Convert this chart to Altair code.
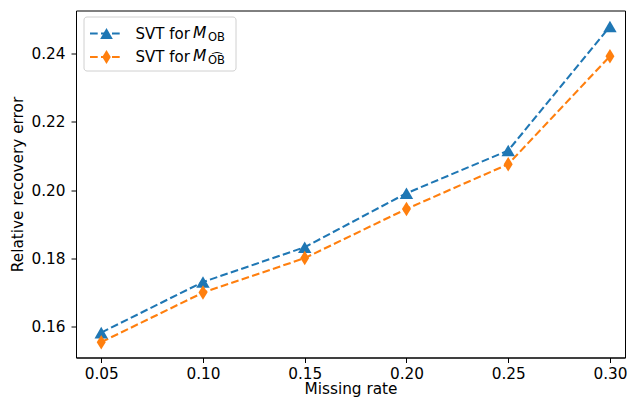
import altair as alt
import pandas as pd

missing_rate = [0.05, 0.10, 0.15, 0.20, 0.25, 0.30]
err_ob = [0.1583, 0.1731, 0.1833, 0.1991, 0.2116, 0.2479]
err_ob_hat = [0.1555, 0.1700, 0.1801, 0.1945, 0.2076, 0.2392]
series_names = ["SVT for M_OB", "SVT for M_OB_hat"]
colors = ["#1f77b4", "#ff7f0e"]
x_ticks = [0.05, 0.10, 0.15, 0.20, 0.25, 0.30]
y_ticks = [0.16, 0.18, 0.20, 0.22, 0.24]

rows = []
for x, a, b in zip(missing_rate, err_ob, err_ob_hat):
    rows.append({"rate": x, "err": a, "series": series_names[0]})
    rows.append({"rate": x, "err": b, "series": series_names[1]})
df = pd.DataFrame(rows)

FONT = "DejaVu Sans"
FS = 15.3
W, H = 549, 347
thin_diamond = "M0,-1L0.62,0L0,1L-0.62,0Z"

x_enc = alt.X("rate:Q", scale=alt.Scale(domain=[0.0376, 0.3074], nice=False, zero=False),
              axis=alt.Axis(values=x_ticks, format=".2f", title="Missing rate"))
y_enc = alt.Y("err:Q", scale=alt.Scale(domain=[0.1510, 0.2526], nice=False, zero=False),
              axis=alt.Axis(values=y_ticks, format=".2f", title="Relative recovery error"))
color_enc = alt.Color("series:N", scale=alt.Scale(domain=series_names, range=colors), legend=None)

DASH = [7.7, 3.3]
lines = alt.Chart(df).mark_line(strokeWidth=2.1, strokeDash=DASH).encode(
    x=x_enc, y=y_enc, color=color_enc, detail="series:N")

tri = alt.Chart(df[df.series == series_names[0]]).mark_point(
    shape="triangle-up", filled=True, opacity=1, size=180, color=colors[0]).encode(x=x_enc, y=y_enc)
dia = alt.Chart(df[df.series == series_names[1]]).mark_point(
    shape=thin_diamond, filled=True, opacity=1, size=210, color=colors[1]).encode(x=x_enc, y=y_enc)

# custom legend (pixel positions inside plot area)
box = alt.Chart().mark_rect(fill="white", stroke="#cccccc", strokeWidth=1, cornerRadius=3, opacity=0.9).encode(
    x=alt.value(8), x2=alt.value(160), y=alt.value(6.5), y2=alt.value(60.5))

def leg_line(y, color):
    return alt.Chart().mark_rule(color=color, strokeWidth=2.1, strokeDash=DASH).encode(
        x=alt.value(14), x2=alt.value(47), y=alt.value(y))

def leg_marker(y, shape, color, size):
    return alt.Chart().mark_point(shape=shape, filled=True, opacity=1, size=size, color=color).encode(
        x=alt.value(30.5), y=alt.value(y))

def leg_text(x, y, txt, size=FS, style="normal"):
    return alt.Chart().mark_text(text=txt, font=FONT, fontSize=size, fontStyle=style, align="left",
                                 baseline="middle", color="black").encode(
        x=alt.value(x), y=alt.value(y))

r1, r2 = 23, 46.5
legend = [
    box,
    leg_line(r1, colors[0]), leg_marker(r1, "triangle-up", colors[0], 160),
    leg_line(r2, colors[1]), leg_marker(r2, thin_diamond, colors[1], 190),
    leg_text(59.5, r1, "SVT for", size=15), leg_text(117, r1 - 1, "M", style="italic", size=15.5),
    leg_text(132, r1 + 4, "OB", size=11.5),
    leg_text(59.5, r2, "SVT for", size=15), leg_text(117, r2 - 1, "M", style="italic", size=15.5),
    leg_text(132, r2 + 4, "O\u0361B", size=11.5),
]

chart = alt.layer(lines, tri, dia, *legend).properties(
    width=W, height=H,
    autosize=alt.AutoSizeParams(type="none"),
    padding={"left": 68, "top": 2.5, "right": 2, "bottom": 41.5},
).configure_view(stroke="black", strokeWidth=1).configure_axis(
    grid=False, domainColor="black", tickColor="black", labelColor="black", titleColor="black",
    labelFont=FONT, titleFont=FONT, labelFontSize=FS, titleFontSize=FS, titleFontWeight="normal",
    tickSize=5, domainWidth=1,
).configure_axisX(labelPadding=4, titlePadding=0).configure_axisY(labelPadding=6, titlePadding=5)

chart.save("out.html", embed_options={"renderer": "svg", "actions": False})
